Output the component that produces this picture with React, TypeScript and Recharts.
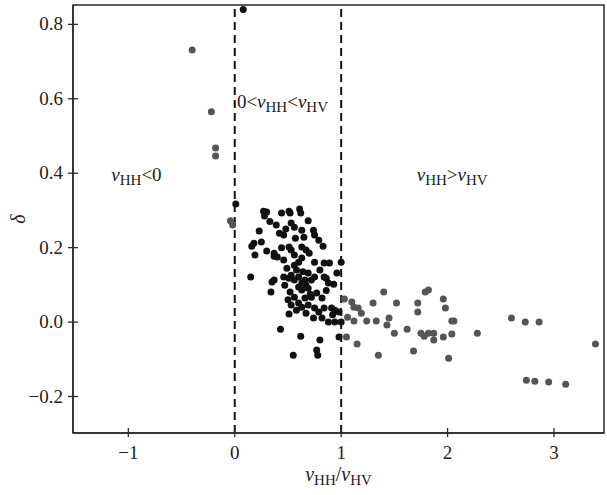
import * as React from 'react';
import {
  ScatterChart,
  Scatter,
  XAxis,
  YAxis,
  ReferenceLine,
  ReferenceArea,
  ReferenceDot,
} from 'recharts';

// ratio vHH/vHV and delta
const blackX = [
  0.08, 0.01, 0.27, 0.3, 0.44, 0.51, 0.52, 0.61, 0.62, 0.39, 0.53, 0.56, 0.69, 0.23, 0.42, 0.46,
  0.63, 0.65, 0.74, 0.75, 0.18, 0.25, 0.16, 0.19, 0.3, 0.37, 0.37, 0.4, 0.51, 0.53, 0.56, 0.63,
  0.67, 0.79, 0.83, 0.46, 0.56, 0.6, 0.63, 0.75, 0.84, 0.89, 1.0, 0.15, 0.35, 0.37, 0.46, 0.51,
  0.53, 0.56, 0.6, 0.63, 0.66, 0.69, 0.75, 0.8, 0.84, 0.88, 0.93, 0.96, 0.86, 0.34, 0.6, 0.63,
  0.69, 0.56, 0.66, 0.72, 0.77, 0.82, 0.53, 0.6, 0.63, 0.69, 0.75, 0.79, 0.84, 0.91, 0.94, 0.98,
  0.51, 0.88, 0.94, 1.0, 0.43, 0.62, 0.8, 0.98, 0.55, 0.77, 0.78, 0.49, 0.58, 0.67, 0.47, 0.72,
  0.52, 0.58, 0.67, 0.74, 0.82, 0.28, 0.33, 0.48, 0.57, 0.7, 0.44, 0.64, 0.71, 0.5, 0.86, 0.92,
];
const blackY = [
  0.84, 0.317, 0.298, 0.296, 0.293, 0.298, 0.293, 0.304, 0.293, 0.261, 0.266, 0.255, 0.272, 0.245,
  0.239, 0.234, 0.247, 0.228, 0.247, 0.234, 0.212, 0.215, 0.204, 0.18, 0.191, 0.185, 0.177, 0.175,
  0.202, 0.194, 0.18, 0.202, 0.194, 0.22, 0.204, 0.167, 0.153, 0.161, 0.172, 0.161, 0.159, 0.159,
  0.161, 0.121, 0.108, 0.113, 0.121, 0.118, 0.126, 0.113, 0.121, 0.105, 0.113, 0.132, 0.121, 0.14,
  0.121, 0.105, 0.102, 0.132, 0.118, 0.081, 0.094, 0.086, 0.091, 0.067, 0.065, 0.067, 0.078, 0.065,
  0.046, 0.051, 0.04, 0.046, 0.038, 0.027, 0.038, 0.038, 0.032, 0.027, 0.022, 0.0, 0.0, 0.0,
  -0.019, -0.038, -0.048, -0.04, -0.089, -0.075, -0.089, 0.145, 0.14, 0.099, 0.099, 0.113, 0.081,
  0.032, 0.024, 0.011, 0.011, 0.285, 0.27, 0.25, 0.225, 0.185, 0.2, 0.135, 0.075, 0.06, 0.085,
  0.02,
];

const grayX = [
  -0.4, -0.22, -0.18, -0.18, -0.04, -0.02, 1.03, 1.1, 1.12, 1.16, 1.19, 1.06, 1.12, 1.05, 1.15,
  1.3, 1.4, 1.24, 1.33, 1.35, 1.45, 1.43, 1.5, 1.52, 1.62, 1.68, 1.72, 1.72, 1.75, 1.78, 1.82,
  1.87, 1.87, 1.79, 1.82, 1.96, 1.98, 1.96, 2.01, 2.04, 2.06, 2.04, 2.28, 2.6, 2.73, 2.86, 2.74,
  2.82, 2.95, 3.11, 3.39,
];
const grayY = [
  0.731, 0.565, 0.468, 0.446, 0.272, 0.261, 0.062, 0.054, 0.04, 0.038, 0.024, 0.013, 0.003, -0.04,
  -0.059, 0.051, 0.081, 0.003, 0.003, -0.089, 0.011, -0.008, -0.03, 0.051, -0.019, -0.078, 0.051,
  0.027, -0.03, -0.038, -0.03, -0.03, -0.048, 0.081, 0.086, 0.062, 0.038, -0.04, -0.097, 0.003,
  0.003, -0.032, -0.03, 0.011, 0.0, 0.0, -0.156, -0.159, -0.161, -0.167, -0.059,
];

const xTicks = [-1, 0, 1, 2, 3];
const yTicks = [-0.2, 0, 0.2, 0.4, 0.6, 0.8];

const blackData = blackX.map((x, i) => ({ x, y: blackY[i] }));
const grayData = grayX.map((x, i) => ({ x, y: grayY[i] }));

const FONT = "'Liberation Serif', 'Times New Roman', Times, serif";
const AXIS = '#2a2a2a';

const Dot = (color: string) => (props: any) =>
  <circle cx={props.cx} cy={props.cy} r={3.5} fill={color} />;

const YTick = (props: any) => {
  const { x, y, payload } = props;
  const v = payload.value;
  const label = v === 0 ? '0.0' : v < 0 ? `\u2212${Math.abs(v).toFixed(1)}` : v.toFixed(1);
  return (
    <g>
      <line x1={x + 5} x2={x + 15} y1={y} y2={y} stroke={AXIS} strokeWidth={1.3} />
      <text x={x} y={y} dy={6} textAnchor="end" style={{ fontFamily: FONT }} fontSize={19} fill="#222">
        {label}
      </text>
    </g>
  );
};

const XTick = (props: any) => {
  const { x, y, payload } = props;
  const v = payload.value;
  return (
    <g>
      <line x1={x} x2={x} y1={y - 5} y2={y + 4} stroke={AXIS} strokeWidth={1.3} />
      <text x={x} y={y} dy={26} textAnchor="middle" style={{ fontFamily: FONT }} fontSize={19} fill="#222">
        {v < 0 ? `\u2212${Math.abs(v)}` : v}
      </text>
    </g>
  );
};

// nu with HH / HV subscript
const Nu = ({ sub }: { sub: string }) => (
  <>
    <tspan fontStyle="italic">ν</tspan>
    <tspan fontSize={15} dy={4}>{sub}</tspan>
  </>
);

const regionLabel = (kind: number) => (props: any) => {
  const { cx, cy } = props;
  return (
    <text x={cx} y={cy} style={{ fontFamily: FONT }} fontSize={19} fill="#222">
      {kind === 0 && (
        <>
          <Nu sub="HH" />
          <tspan dy={-4}>{'<0'}</tspan>
        </>
      )}
      {kind === 1 && (
        <>
          <tspan>{'0<'}</tspan>
          <Nu sub="HH" />
          <tspan dy={-4}>{'<'}</tspan>
          <Nu sub="HV" />
        </>
      )}
      {kind === 2 && (
        <>
          <Nu sub="HH" />
          <tspan dy={-4}>{'>'}</tspan>
          <Nu sub="HV" />
        </>
      )}
    </text>
  );
};

const XLabel = (props: any) => {
  const { viewBox } = props;
  const cx = viewBox.x + viewBox.width / 2;
  return (
    <text x={cx} y={viewBox.y + 48} textAnchor="middle" style={{ fontFamily: FONT }} fontSize={20} fill="#222">
      <tspan fontStyle="italic">ν</tspan>
      <tspan fontSize={15} dy={4}>HH</tspan>
      <tspan dy={-4}>/</tspan>
      <tspan fontStyle="italic">ν</tspan>
      <tspan fontSize={15} dy={4}>HV</tspan>
    </text>
  );
};

const YLabel = (props: any) => {
  const { viewBox } = props;
  const cy = viewBox.y + viewBox.height / 2;
  return (
    <text
      x={20}
      y={cy}
      transform={`rotate(-90 20 ${cy})`}
      textAnchor="middle"
      dominantBaseline="middle"
      style={{ fontFamily: FONT }}
      fontStyle="italic"
      fontSize={20}
      fill="#222"
    >
      δ
    </text>
  );
};

export default function App() {
  return (
    <div style={{ position: 'absolute', left: 0, top: 0, background: '#fff' }}>
      <ScatterChart width={607} height={495} margin={{ top: 5, right: 3, bottom: 0, left: 0 }}>
        <XAxis
          type="number"
          dataKey="x"
          domain={[-1.52, 3.47]}
          ticks={xTicks}
          allowDataOverflow
          height={62}
          tickSize={0}
          tickMargin={0}
          tick={<XTick />}
          axisLine={{ stroke: AXIS, strokeWidth: 1.5 }}
          label={<XLabel />}
        />
        <YAxis
          type="number"
          dataKey="y"
          domain={[-0.298, 0.852]}
          ticks={yTicks}
          allowDataOverflow
          width={73}
          tickSize={0}
          tickMargin={10}
          tick={<YTick />}
          axisLine={{ stroke: AXIS, strokeWidth: 1.5 }}
          label={<YLabel />}
        />
        <ReferenceArea
          x1={-1.52}
          x2={3.47}
          y1={-0.298}
          y2={0.852}
          fill="none"
          stroke={AXIS}
          strokeWidth={1.5}
        />
        <ReferenceLine x={0} stroke="#111" strokeWidth={2} strokeDasharray="8 5" />
        <ReferenceLine x={1} stroke="#111" strokeWidth={2} strokeDasharray="8 5" />
        <Scatter data={grayData} fill="#555" shape={Dot('#555')} isAnimationActive={false} />
        <Scatter data={blackData} fill="#111" shape={Dot('#111')} isAnimationActive={false} />
        <ReferenceDot x={-1.16} y={0.38} r={0} shape={regionLabel(0)} />
        <ReferenceDot x={0.02} y={0.575} r={0} shape={regionLabel(1)} />
        <ReferenceDot x={1.71} y={0.38} r={0} shape={regionLabel(2)} />
      </ScatterChart>
    </div>
  );
}
